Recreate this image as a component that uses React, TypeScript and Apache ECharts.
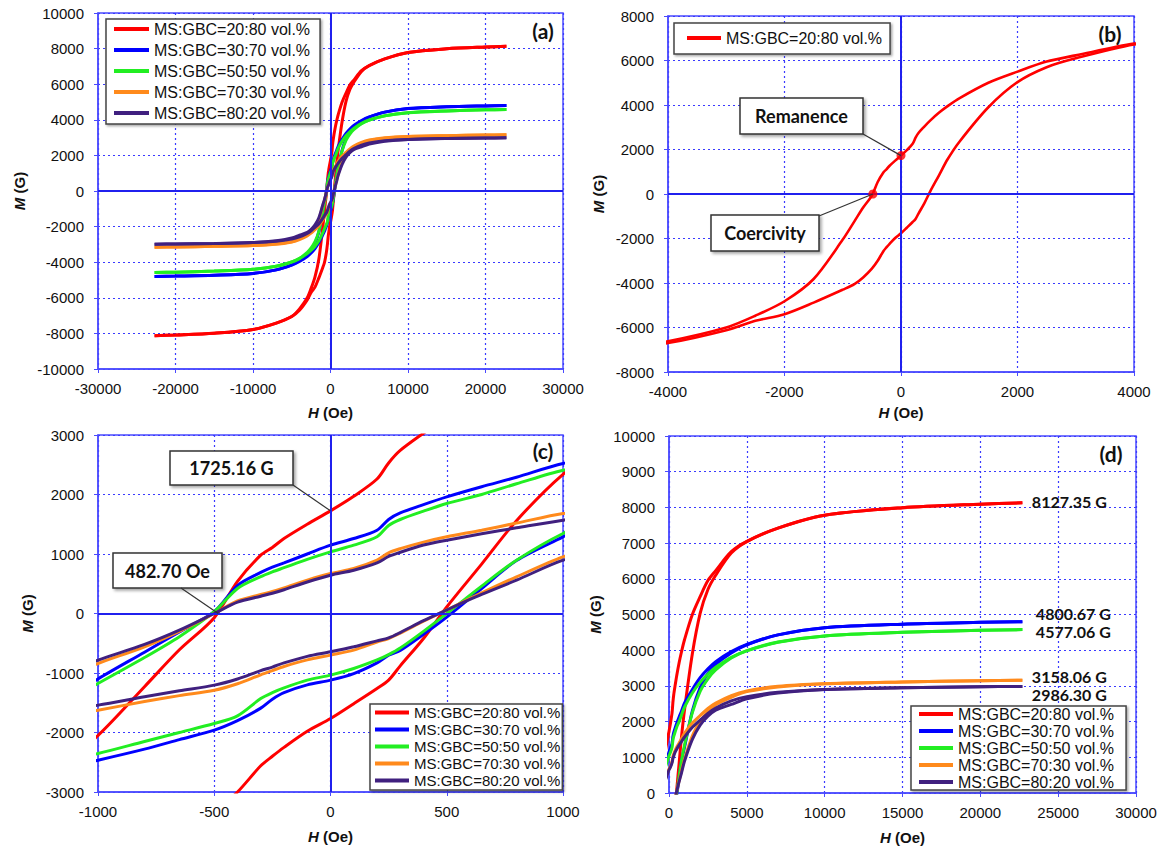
import React, { useEffect, useRef } from "react";
import * as echarts from "echarts";

// ---------- DATA ----------
const H_OE = [
  -22700, -20000, -15000, -10000, -7000, -5000, -4000, -3000, -2500, -2000, -1500, -1000, -800, -650, -500, -400, -300,
  -250, -200, -100, 0, 100, 200, 250, 300, 400, 500, 650, 800, 1000, 1500, 2000, 2500, 3000, 4000, 5000, 7000, 10000,
  15000, 20000, 22700,
];

// descending-field (upper) branches
const RED_UP = [
  -8127, -8090, -7990, -7780, -7420, -7050, -6620, -6000, -5470, -4821, -3820, -2050, -1230, -610, -70, 540, 980, 1110,
  1260, 1500, 1725, 1970, 2260, 2530, 2740, 3030, 3300, 3650, 3950, 4300, 5000, 5500, 5950, 6230, 6760, 7050, 7420, 7780,
  7990, 8090, 8127,
];
const BLUE_UP = [
  -4800, -4780, -4730, -4630, -4430, -4150, -3920, -3600, -3350, -2950, -2300, -1100, -650, -310, 30, 470, 690, 780, 850,
  1000, 1148, 1260, 1400, 1580, 1690, 1830, 1960, 2130, 2290, 2521, 2900, 3230, 3480, 3680, 3960, 4160, 4430, 4630, 4730,
  4780, 4800,
];
const GREEN_UP = [
  -4577, -4560, -4500, -4400, -4220, -3980, -3780, -3450, -3200, -2850, -2250, -1176, -740, -390, 30, 420, 620, 700, 770,
  910, 1036, 1148, 1290, 1480, 1580, 1720, 1849, 2000, 2180, 2409, 2800, 3100, 3330, 3520, 3800, 3990, 4230, 4400, 4500,
  4560, 4577,
];
const ORANGE_UP = [
  -3158, -3145, -3110, -3060, -2970, -2850, -2680, -2470, -2280, -2000, -1600, -840, -560, -300, 0, 210, 320, 370, 430,
  560, 672, 756, 896, 1020, 1090, 1200, 1289, 1400, 1520, 1681, 1960, 2170, 2370, 2520, 2730, 2860, 2990, 3060, 3110,
  3145, 3158,
];
const PURPLE_UP = [
  -2986, -2975, -2950, -2900, -2800, -2640, -2480, -2320, -2150, -1900, -1500, -784, -520, -280, 0, 190, 290, 340, 400,
  530, 644, 728, 850, 960, 1030, 1150, 1232, 1340, 1440, 1569, 1840, 2040, 2230, 2380, 2580, 2700, 2820, 2900, 2950, 2975,
  2986,
];

// ascending-field (lower) branches
const RED_DN = [
  -8127, -8090, -7990, -7780, -7420, -7050, -6700, -6120, -5700, -5400, -4880, -4300, -4050, -3750, -3350, -3000, -2560,
  -2400, -2250, -1980, -1765, -1515, -1260, -1120, -880, -420, 110, 830, 1560, 2340, 3900, 5030, 5700, 6100, 6720, 7040,
  7420, 7780, 7990, 8090, 8127,
];
const BLUE_DN = [
  -4800, -4780, -4730, -4630, -4430, -4160, -3960, -3680, -3480, -3230, -2900, -2465, -2280, -2120, -1960, -1800, -1590,
  -1440, -1330, -1200, -1120, -1010, -830, -700, -620, -350, -60, 420, 890, 1289, 2300, 2950, 3350, 3600, 3920, 4150, 4430,
  4630, 4730, 4780, 4800,
];
const GREEN_DN = [
  -4577, -4560, -4500, -4400, -4230, -3990, -3800, -3520, -3330, -3100, -2800, -2353, -2150, -2000, -1849, -1720, -1430,
  -1330, -1250, -1120, -1036, -924, -780, -690, -580, -300, 0, 460, 896, 1345, 2250, 2850, 3200, 3450, 3780, 3980, 4220,
  4400, 4500, 4560, 4577,
];
const ORANGE_DN = [
  -3158, -3145, -3110, -3060, -2990, -2860, -2730, -2520, -2370, -2170, -1960, -1625, -1480, -1380, -1289, -1180, -1030,
  -960, -890, -780, -700, -616, -480, -420, -330, -130, 60, 345, 616, 952, 1600, 2000, 2280, 2470, 2680, 2840, 2970, 3060,
  3110, 3145, 3158,
];
const PURPLE_DN = [
  -2986, -2975, -2950, -2900, -2820, -2700, -2580, -2380, -2230, -2040, -1840, -1540, -1400, -1300, -1204, -1100, -960,
  -900, -830, -720, -644, -560, -460, -410, -320, -120, 60, 320, 560, 896, 1500, 1900, 2150, 2320, 2480, 2640, 2800, 2900,
  2950, 2975, 2986,
];

const NAMES = [
  "MS:GBC=20:80 vol.%",
  "MS:GBC=30:70 vol.%",
  "MS:GBC=50:50 vol.%",
  "MS:GBC=70:30 vol.%",
  "MS:GBC=80:20 vol.%",
];
const UPPER = [RED_UP, BLUE_UP, GREEN_UP, ORANGE_UP, PURPLE_UP];
const LOWER = [RED_DN, BLUE_DN, GREEN_DN, ORANGE_DN, PURPLE_DN];
const MS_VALUES = [8127.35, 4800.67, 4577.06, 3158.06, 2986.3];
const REMANENCE_G = 1725.16;
const COERCIVITY_OE = 482.7;

const PANEL_TAGS = ["(a)", "(b)", "(c)", "(d)"];
// [min, max, interval] per panel
const X_RANGES = [
  [-30000, 30000, 10000],
  [-4000, 4000, 2000],
  [-1000, 1000, 500],
  [0, 30000, 5000],
];
const Y_RANGES = [
  [-10000, 10000, 2000],
  [-8000, 8000, 2000],
  [-3000, 3000, 1000],
  [0, 10000, 1000],
];

// ---------- STYLE / LAYOUT ----------
const COLORS = ["#ff0000", "#0000ff", "#22ee22", "#ff8a1c", "#40207f"];
const FONT = '"Liberation Sans", Arial, sans-serif';
const BOLD_FONT = 'Lato, "Open Sans", sans-serif';
const AXIS_BLUE = "#4b4bff";
const GRID_BLUE = "#3a3aff";
const ZERO_BLUE = "#2020ee";

const GRIDS = [
  { left: 98, top: 13, width: 465, height: 356 },
  { left: 668, top: 16, width: 466, height: 356 },
  { left: 98, top: 435, width: 465, height: 357 },
  { left: 669, top: 436, width: 467, height: 357 },
];
const X_NAME_GAP = [36, 33, 37, 37];
const Y_NAME_GAP = [71, 62, 63, 66];
const TAG_POS = [
  [543, 30],
  [1110, 33],
  [543, 450],
  [1111, 453],
];
const LABEL_OFFSET = [
  [0, -1],
  [4, -8],
  [4, 2],
  [0, -4],
  [0, 8],
];

const plain = (v: number) => String(v);

function xAxis(i: number) {
  const [min, max, interval] = X_RANGES[i];
  return {
    type: "value",
    gridIndex: i,
    min,
    max,
    interval,
    name: "{i|H} (Oe)",
    nameLocation: "middle",
    nameGap: X_NAME_GAP[i],
    nameTextStyle: {
      fontFamily: FONT,
      fontSize: 15,
      fontWeight: "bold",
      color: "#111",
      rich: { i: { fontFamily: FONT, fontSize: 15, fontWeight: "bold", fontStyle: "italic", color: "#111" } },
    },
    axisLine: { show: true, onZero: false, lineStyle: { color: AXIS_BLUE, width: 1.5 } },
    axisTick: { show: true, length: 4, lineStyle: { color: AXIS_BLUE } },
    axisLabel: {
      color: "#111",
      fontSize: 15,
      fontFamily: FONT,
      margin: 12,
      showMinLabel: true,
      showMaxLabel: true,
      formatter: plain,
    },
    splitLine: { show: true, lineStyle: { color: GRID_BLUE, type: [2, 3], width: 1.2 } },
  };
}

function yAxis(i: number) {
  const [min, max, interval] = Y_RANGES[i];
  return {
    type: "value",
    gridIndex: i,
    min,
    max,
    interval,
    name: "{i|M} (G)",
    nameLocation: "middle",
    nameGap: Y_NAME_GAP[i],
    nameTextStyle: {
      fontFamily: FONT,
      fontSize: 15,
      fontWeight: "bold",
      color: "#111",
      rich: { i: { fontFamily: FONT, fontSize: 15, fontWeight: "bold", fontStyle: "italic", color: "#111" } },
    },
    axisLine: { show: true, onZero: false, lineStyle: { color: AXIS_BLUE, width: 1.5 } },
    axisTick: { show: true, length: 4, lineStyle: { color: AXIS_BLUE } },
    axisLabel: {
      color: "#111",
      fontSize: 15,
      fontFamily: FONT,
      margin: 14,
      showMinLabel: true,
      showMaxLabel: true,
      formatter: plain,
    },
    splitLine: { show: true, lineStyle: { color: GRID_BLUE, type: [2, 3], width: 1.2 } },
  };
}

function legend(
  names: string[],
  left: number,
  top: number,
  fontSize: number,
  itemGap: number,
  padding: number[],
  itemWidth: number
) {
  return {
    orient: "vertical",
    left,
    top,
    data: names,
    icon: "rect",
    itemWidth,
    itemHeight: 4,
    itemGap,
    padding,
    selectedMode: false,
    backgroundColor: "#fff",
    borderColor: "#444",
    borderWidth: 1.5,
    shadowColor: "rgba(0,0,0,0.35)",
    shadowBlur: 2,
    shadowOffsetX: 1.5,
    shadowOffsetY: 1.5,
    textStyle: { fontSize, lineHeight: fontSize, color: "#111", fontFamily: FONT },
    z: 10,
  };
}

function buildOption() {
  const series: any[] = [];
  // zero lines for panels a, b, c
  for (let p = 0; p < 3; p++) {
    series.push({
      type: "line",
      xAxisIndex: p,
      yAxisIndex: p,
      data: [],
      silent: true,
      z: 1,
      markLine: {
        silent: true,
        symbol: "none",
        label: { show: false },
        lineStyle: { color: ZERO_BLUE, width: 2, type: "solid" },
        data: [{ xAxis: 0 }, { yAxis: 0 }],
      },
    });
  }
  for (let p = 0; p < 4; p++) {
    const idx = p === 1 ? [0] : [0, 1, 2, 3, 4];
    for (const s of idx) {
      const base = {
        type: "line",
        name: NAMES[s],
        xAxisIndex: p,
        yAxisIndex: p,
        showSymbol: false,
        symbol: "none",
        smooth: 0.3,
        color: COLORS[s],
        lineStyle: { color: COLORS[s], width: p === 1 ? 2.6 : 3 },
        z: 3,
        silent: true,
      };
      const up: any = { ...base, data: H_OE.map((h, k) => [h, UPPER[s][k]]) };
      if (p === 3) {
        up.markPoint = {
          symbol: "circle",
          symbolSize: 1,
          itemStyle: { color: "rgba(0,0,0,0)" },
          silent: true,
          label: {
            show: true,
            position: "right",
            distance: 9,
            offset: LABEL_OFFSET[s],
            formatter: `${MS_VALUES[s].toFixed(2)} G`,
            fontFamily: BOLD_FONT,
            fontWeight: "bold",
            fontSize: 16,
            lineHeight: 16,
            color: "#111",
          },
          data: [{ coord: [H_OE[H_OE.length - 1], MS_VALUES[s]] }],
        };
      }
      series.push(up);
      series.push({ ...base, data: H_OE.map((h, k) => [h, LOWER[s][k]]) });
    }
  }
  series.push({
    type: "scatter",
    xAxisIndex: 1,
    yAxisIndex: 1,
    data: [
      [0, REMANENCE_G],
      [-COERCIVITY_OE, 0],
    ],
    symbolSize: 9,
    itemStyle: { color: "#ff0000" },
    z: 5,
    silent: true,
  });

  return {
    animation: false,
    backgroundColor: "#ffffff",
    textStyle: { fontFamily: FONT },
    grid: GRIDS.map((g) => ({
      ...g,
      show: true,
      borderColor: AXIS_BLUE,
      borderWidth: 1.5,
      backgroundColor: "rgba(0,0,0,0)",
      containLabel: false,
    })),
    xAxis: [0, 1, 2, 3].map(xAxis),
    yAxis: [0, 1, 2, 3].map(yAxis),
    legend: [
      legend(NAMES, 106, 19, 16, 5, [2, 10, 3, 8], 35),
      legend([NAMES[0]], 674, 23, 16, 5, [7, 8, 8, 13], 34),
      legend(NAMES, 370, 704, 15, 2, [1, 2, 2, 5], 34),
      legend(NAMES, 911, 706, 16, 1, [0, 12, 0, 8], 34),
    ],
    series,
  };
}

function box(x: number, y: number, w: number, h: number, text: string) {
  return {
    type: "group",
    z: 20,
    children: [
      {
        type: "rect",
        shape: { x, y, width: w, height: h },
        style: {
          fill: "#fff",
          stroke: "#333",
          lineWidth: 1.5,
          shadowBlur: 3,
          shadowColor: "rgba(0,0,0,0.35)",
          shadowOffsetX: 2,
          shadowOffsetY: 2,
        },
      },
      {
        type: "text",
        x: x + w / 2,
        y: y + h / 2,
        style: {
          text,
          fill: "#111",
          font: `bold 18px ${BOLD_FONT}`,
          textAlign: "center",
          textVerticalAlign: "middle",
        },
      },
    ],
  };
}

function connector(x1: number, y1: number, pt: number[]) {
  return {
    type: "line",
    z: 19,
    shape: { x1, y1, x2: pt[0], y2: pt[1] },
    style: { stroke: "#333", lineWidth: 1.2 },
  };
}

function buildGraphic(chart: any) {
  const remB = chart.convertToPixel({ gridIndex: 1 }, [0, REMANENCE_G]);
  const coeB = chart.convertToPixel({ gridIndex: 1 }, [-COERCIVITY_OE, 0]);
  const remC = chart.convertToPixel({ gridIndex: 2 }, [0, REMANENCE_G]);
  const coeC = chart.convertToPixel({ gridIndex: 2 }, [-COERCIVITY_OE, 0]);
  const g: any[] = [];
  PANEL_TAGS.forEach((t, i) => {
    g.push({
      type: "text",
      x: TAG_POS[i][0],
      y: TAG_POS[i][1],
      z: 20,
      style: { text: t, fill: "#111", font: `bold 21px ${BOLD_FONT}`, textAlign: "center", textVerticalAlign: "middle" },
    });
  });
  g.push(connector(863, 134, remB));
  g.push(connector(819, 216, coeB));
  g.push(box(740, 98, 123, 36, "Remanence"));
  g.push(box(711, 215, 108, 36, "Coercivity"));
  g.push(connector(293, 485, remC));
  g.push(connector(181, 588, coeC));
  g.push(box(170, 451, 123, 34, `${REMANENCE_G.toFixed(2)} G`));
  g.push(box(113, 553, 109, 35, `${COERCIVITY_OE.toFixed(2)} Oe`));
  return g;
}

export default function App() {
  const ref = useRef<HTMLDivElement>(null);
  useEffect(() => {
    const chart = echarts.init(ref.current as HTMLDivElement, null, { renderer: "svg" });
    chart.setOption(buildOption() as any);
    chart.setOption({ graphic: buildGraphic(chart) } as any);
    return () => chart.dispose();
  }, []);
  return (
    <div
      ref={ref}
      style={{ position: "absolute", left: 0, top: 0, width: 1162, height: 851, background: "#fff" }}
    />
  );
}
